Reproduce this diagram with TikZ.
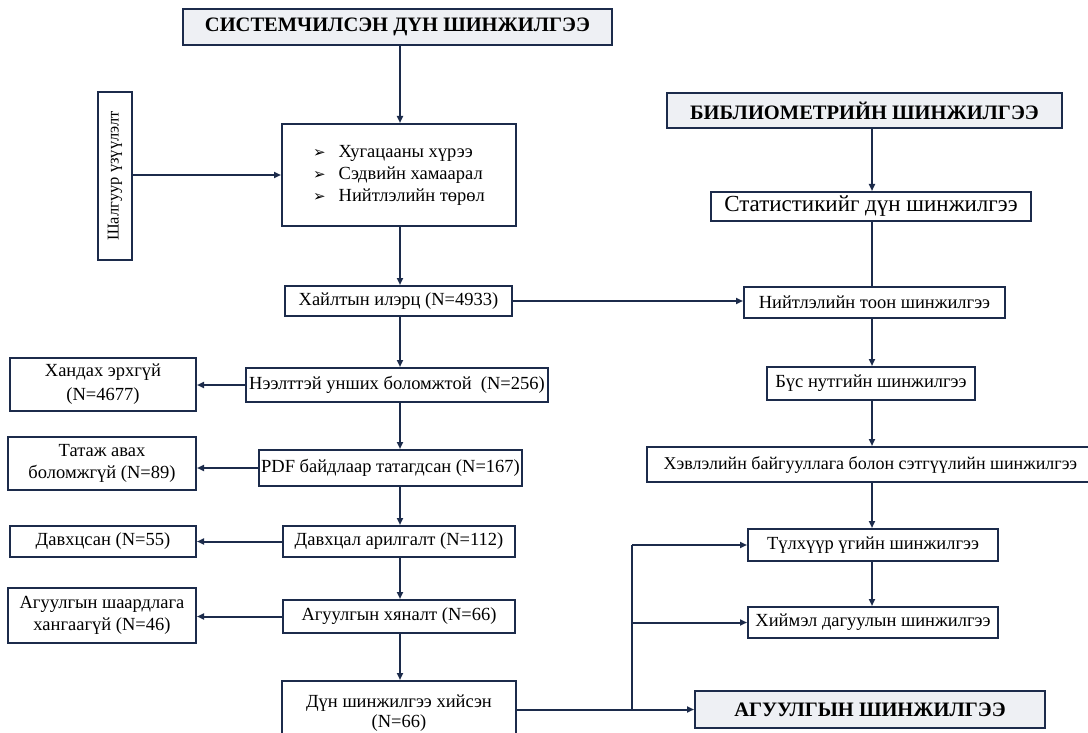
\documentclass[tikz,border=0pt]{standalone}
\usepackage{fontspec}
\setmainfont{Liberation Serif}
\newfontfamily\symfont{DejaVu Sans}
\usetikzlibrary{arrows.meta,positioning}
\definecolor{navy}{HTML}{1C2B4B}
\definecolor{hdrfill}{HTML}{EEF0F4}
\tikzset{
  box/.style={draw=navy,line width=2pt,fill=white,inner sep=0pt,align=center,
    font=\fontsize{18.5}{22}\selectfont},
  hdr/.style={box,fill=hdrfill,font=\fontsize{20.5}{22}\selectfont\bfseries},
  ln/.style={draw=navy,line width=2pt},
  arr/.style={ln,-{Triangle[length=7pt,width=6pt]}},
}
\newcommand{\bul}{{\symfont\fontsize{15}{16}\selectfont ➢}\hspace{13pt}}

\begin{document}
\begin{tikzpicture}[x=1pt,y=-1pt]
  \useasboundingbox (0,0) rectangle (1088,733);
  \coordinate (lx) at (400,0);
  \coordinate (rx) at (872,0);
  \coordinate (bx) at (632,0);

  % left column
  \node[hdr,minimum width=429,minimum height=36] (sys) at (397.5,27) {СИСТЕМЧИЛСЭН ДҮН ШИНЖИЛГЭЭ};
  \node[box,minimum width=234,minimum height=102,align=left,font=\fontsize{18.5}{22}\selectfont] (crit) at (399,175)
    {\bul Хугацааны хүрээ\\ \bul Сэдвийн хамаарал\\ \bul Нийтлэлийн төрөл};
  \node[box,minimum width=34,minimum height=168] (shal) at (115,176)
    {\rotatebox{90}{\fontsize{16.5}{18}\selectfont Шалгуур үзүүлэлт}};
  \node[box,minimum width=227,minimum height=30] (srch) at (398.5,301) {Хайлтын илэрц (N=4933)};
  \node[box,minimum width=302,minimum height=34] (open) at (397,385) {Нээлттэй унших боломжтой\ \ (N=256)};
  \node[box,minimum width=186,minimum height=53,font=\fontsize{18.5}{24}\selectfont] (hand) at (103,384.5) {Хандах эрхгүй\\(N=4677)};
  \node[box,minimum width=263,minimum height=36] (pdf) at (390.5,468) {PDF байдлаар татагдсан (N=167)};
  \node[box,minimum width=188,minimum height=53] (tat) at (102,463.5) {Татаж авах\\боломжгүй (N=89)};
  \node[box,minimum width=232,minimum height=31] (dup) at (399,541.5) {Давхцал арилгалт (N=112)};
  \node[box,minimum width=186,minimum height=31] (dups) at (103,541.5) {Давхцсан (N=55)};
  \node[box,minimum width=232,minimum height=33] (cont) at (399,616.5) {Агуулгын хяналт (N=66)};
  \node[box,minimum width=188,minimum height=55] (conts) at (102,615.5) {Агуулгын шаардлага\\хангаагүй (N=46)};
  \node[box,minimum width=234,minimum height=64,font=\fontsize{18.5}{20}\selectfont] (dun) at (399,713) {Дүн шинжилгээ хийсэн\\(N=66)};

  % right column
  \node[hdr,minimum width=395,minimum height=35] (bib) at (864.5,110.5) {БИБЛИОМЕТРИЙН ШИНЖИЛГЭЭ};
  \node[box,minimum width=320,minimum height=29,font=\fontsize{23}{24}\selectfont] (stat) at (871,206.5) {Статистикийг дүн шинжилгээ};
  \node[box,minimum width=261,minimum height=31] (niit) at (874.5,302.5) {Нийтлэлийн тоон шинжилгээ};
  \node[box,minimum width=208,minimum height=33] (bus) at (871,383.5) {Бүс нутгийн шинжилгээ};
  \node[box,minimum width=447,minimum height=35,font=\fontsize{18}{20}\selectfont] (hev) at (870.5,464.5) {Хэвлэлийн байгууллага болон сэтгүүлийн шинжилгээ};
  \node[box,minimum width=250,minimum height=32] (tul) at (873,545) {Түлхүүр үгийн шинжилгээ};
  \node[box,minimum width=250,minimum height=31] (hiim) at (873,622.5) {Хиймэл дагуулын шинжилгээ};
  \node[hdr,minimum width=350,minimum height=37] (agsh) at (870,709.5) {АГУУЛГЫН ШИНЖИЛГЭЭ};

  % main flow
  \draw[arr] (sys.south -| lx) -- (crit.north -| lx);
  \draw[arr] (shal.east |- crit.west) -- (crit.west);
  \draw[arr] (crit.south -| lx) -- (srch.north -| lx);
  \draw[arr] (srch.south -| lx) -- (open.north -| lx);
  \draw[arr] (open.south -| lx) -- (pdf.north -| lx);
  \draw[arr] (pdf.south -| lx) -- (dup.north -| lx);
  \draw[arr] (dup.south -| lx) -- (cont.north -| lx);
  \draw[arr] (cont.south -| lx) -- (dun.north -| lx);
  % excluded
  \draw[arr] (open.west) -- (open.west -| hand.east);
  \draw[arr] (pdf.west) -- (pdf.west -| tat.east);
  \draw[arr] (dup.west) -- (dup.west -| dups.east);
  \draw[arr] (cont.west) -- (cont.west -| conts.east);
  % bibliometric
  \draw[arr] (srch.east) -- (srch.east -| niit.west);
  \draw[arr] (bib.south -| rx) -- (stat.north -| rx);
  \draw[ln] (stat.south -| rx) -- (niit.north -| rx);
  \draw[arr] (niit.south -| rx) -- (bus.north -| rx);
  \draw[arr] (bus.south -| rx) -- (hev.north -| rx);
  \draw[arr] (hev.south -| rx) -- (tul.north -| rx);
  \draw[arr] (tul.south -| rx) -- (hiim.north -| rx);
  % analysis
  \draw[arr] (dun.east |- agsh.west) -- (agsh.west);
  \draw[ln] (bx |- agsh.west) -- (bx |- tul.west);
  \draw[arr] (bx |- tul.west) -- (tul.west);
  \draw[arr] (bx |- hiim.west) -- (hiim.west);
\end{tikzpicture}
\end{document}
